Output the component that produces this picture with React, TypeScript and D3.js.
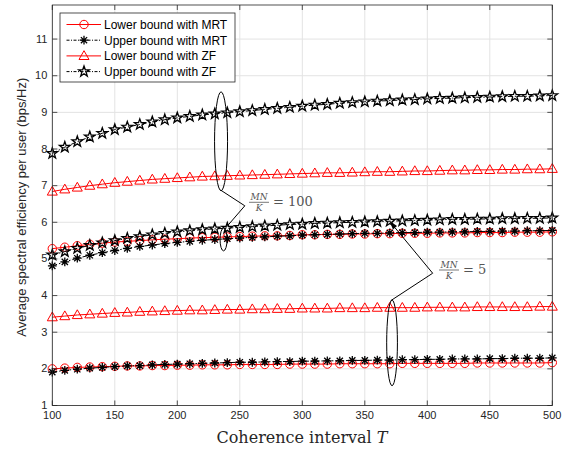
import React from "react";
import * as d3 from "d3";

// coherence interval T
const T = [100, 110, 120, 130, 140, 150, 160, 170, 180, 190, 200, 210, 220, 230, 240, 250, 260, 270, 280, 290,
  300, 310, 320, 330, 340, 350, 360, 370, 380, 390, 400, 410, 420, 430, 440, 450, 460, 470, 480, 490, 500];

// MN/K = 100
const mrtLower100 = [5.28, 5.32, 5.36, 5.40, 5.43, 5.46, 5.48, 5.50, 5.52, 5.54, 5.55, 5.57, 5.58, 5.59, 5.60, 5.61, 5.62, 5.63, 5.63, 5.64,
  5.66, 5.66, 5.67, 5.67, 5.68, 5.68, 5.69, 5.69, 5.70, 5.70, 5.70, 5.71, 5.71, 5.71, 5.72, 5.72, 5.72, 5.73, 5.73, 5.73, 5.74];
const mrtUpper100 = [4.81, 4.92, 5.02, 5.10, 5.17, 5.23, 5.29, 5.34, 5.38, 5.42, 5.45, 5.48, 5.51, 5.53, 5.55, 5.57, 5.59, 5.60, 5.62, 5.63,
  5.65, 5.66, 5.67, 5.68, 5.69, 5.70, 5.70, 5.71, 5.72, 5.72, 5.73, 5.73, 5.74, 5.74, 5.75, 5.75, 5.76, 5.76, 5.77, 5.77, 5.78];
const zfLower100 = [6.84, 6.90, 6.95, 7.00, 7.04, 7.08, 7.11, 7.14, 7.17, 7.19, 7.21, 7.23, 7.25, 7.26, 7.27, 7.28, 7.29, 7.30, 7.31, 7.32,
  7.33, 7.34, 7.35, 7.35, 7.36, 7.37, 7.38, 7.38, 7.39, 7.40, 7.40, 7.41, 7.42, 7.42, 7.43, 7.43, 7.44, 7.44, 7.45, 7.45, 7.46];
const zfUpper100 = [7.88, 8.05, 8.20, 8.33, 8.43, 8.53, 8.60, 8.67, 8.74, 8.80, 8.85, 8.89, 8.93, 8.96, 8.99, 9.02, 9.05, 9.08, 9.11, 9.14,
  9.17, 9.20, 9.22, 9.25, 9.27, 9.29, 9.31, 9.32, 9.34, 9.35, 9.37, 9.38, 9.39, 9.40, 9.41, 9.42, 9.43, 9.44, 9.44, 9.45, 9.46];

// MN/K = 5
const mrtLower5 = [2.00, 2.02, 2.04, 2.05, 2.06, 2.07, 2.08, 2.08, 2.09, 2.09, 2.10, 2.10, 2.11, 2.11, 2.11, 2.12, 2.12, 2.12, 2.12, 2.13,
  2.13, 2.13, 2.13, 2.14, 2.14, 2.14, 2.14, 2.14, 2.15, 2.15, 2.15, 2.15, 2.15, 2.15, 2.16, 2.16, 2.16, 2.16, 2.16, 2.16, 2.17];
const mrtUpper5 = [1.91, 1.96, 1.99, 2.02, 2.04, 2.06, 2.08, 2.09, 2.11, 2.12, 2.13, 2.14, 2.15, 2.16, 2.17, 2.18, 2.18, 2.19, 2.20, 2.20,
  2.21, 2.21, 2.22, 2.22, 2.23, 2.23, 2.24, 2.24, 2.25, 2.25, 2.26, 2.26, 2.27, 2.27, 2.27, 2.28, 2.28, 2.29, 2.29, 2.29, 2.30];
const zfLower5 = [3.41, 3.44, 3.47, 3.49, 3.51, 3.53, 3.54, 3.56, 3.57, 3.58, 3.59, 3.60, 3.60, 3.61, 3.62, 3.62, 3.63, 3.63, 3.64, 3.64,
  3.65, 3.65, 3.65, 3.66, 3.66, 3.66, 3.67, 3.67, 3.67, 3.67, 3.68, 3.68, 3.68, 3.68, 3.69, 3.69, 3.69, 3.69, 3.69, 3.70, 3.70];
const zfUpper5 = [5.11, 5.20, 5.29, 5.37, 5.44, 5.50, 5.56, 5.61, 5.66, 5.70, 5.74, 5.77, 5.80, 5.82, 5.84, 5.86, 5.88, 5.90, 5.92, 5.94,
  5.95, 5.97, 5.98, 5.99, 6.00, 6.01, 6.02, 6.03, 6.04, 6.05, 6.06, 6.07, 6.08, 6.08, 6.09, 6.09, 6.10, 6.10, 6.11, 6.11, 6.12];

const xTicks = [100, 150, 200, 250, 300, 350, 400, 450, 500];
const yTicks = [1, 2, 3, 4, 5, 6, 7, 8, 9, 10, 11];

const legendLabels = ["Lower bound with MRT", "Upper bound with MRT", "Lower bound with ZF", "Upper bound with ZF"];

const left = 52.3, right = 552.3, top = 5, bottom = 405.5;
const x = d3.scaleLinear().domain([100, 500]).range([left, right]);
const y = d3.scaleLinear().domain([1, 11.93]).range([bottom, top]);

type Kind = "circle" | "asterisk" | "triangle" | "star";

const styles: { kind: Kind; color: string; dash?: string }[] = [
  { kind: "circle", color: "#ff0000" },
  { kind: "asterisk", color: "#000000", dash: "5,2,1.5,2" },
  { kind: "triangle", color: "#ff0000" },
  { kind: "star", color: "#000000", dash: "5,2,1.5,2" },
];

const series = [
  { s: 0, values: mrtLower100 },
  { s: 1, values: mrtUpper100 },
  { s: 2, values: zfLower100 },
  { s: 3, values: zfUpper100 },
  { s: 0, values: mrtLower5 },
  { s: 1, values: mrtUpper5 },
  { s: 2, values: zfLower5 },
  { s: 3, values: zfUpper5 },
];

function starPath(r: number) {
  const pts: string[] = [];
  for (let i = 0; i < 10; i++) {
    const a = -Math.PI / 2 + (i * Math.PI) / 5;
    const rr = i % 2 === 0 ? r : r * 0.4;
    pts.push(`${(rr * Math.cos(a)).toFixed(2)},${(rr * Math.sin(a)).toFixed(2)}`);
  }
  return "M" + pts.join("L") + "Z";
}

function Marker({ kind, color, cx, cy }: { kind: Kind; color: string; cx: number; cy: number }) {
  const t = `translate(${cx},${cy})`;
  if (kind === "circle") return <circle cx={cx} cy={cy} r={4.2} fill="none" stroke={color} strokeWidth={1} />;
  if (kind === "triangle")
    return <path transform={t} d="M0,-5.2L5,3.6L-5,3.6Z" fill="none" stroke={color} strokeWidth={1} />;
  if (kind === "star") return <path transform={t} d={starPath(5.6)} fill="none" stroke={color} strokeWidth={1.3} />;
  const r = 4.4, d = r * Math.SQRT1_2;
  return (
    <path transform={t} stroke={color} strokeWidth={1.3}
      d={`M${-r},0L${r},0M0,${-r}L0,${r}M${-d},${-d}L${d},${d}M${-d},${d}L${d},${-d}`} />
  );
}

const line = d3.line<number>().x((_, i) => x(T[i])).y((v) => y(v));

function Fraction({ cx, cyBar, rhs }: { cx: number; cyBar: number; rhs: string }) {
  return (
    <g fill="#555" fontFamily="'DejaVu Serif', serif">
      <text x={cx} y={cyBar - 2.5} fontSize={9} fontStyle="italic" textAnchor="middle">MN</text>
      <line x1={cx - 10} x2={cx + 10} y1={cyBar} y2={cyBar} stroke="#555" strokeWidth={0.8} />
      <text x={cx} y={cyBar + 8.5} fontSize={9} fontStyle="italic" textAnchor="middle">K</text>
      <text x={cx + 14} y={cyBar + 4} fontSize={13}>{rhs}</text>
    </g>
  );
}

export default function App() {
  const arrowTip = [x(369.6), y(6.04)];
  const arrowFrom = [x(404.3), y(4.61)];
  const ang = Math.atan2(arrowTip[1] - arrowFrom[1], arrowTip[0] - arrowFrom[0]);
  const ah = 9, aw = 2.6;
  const bx = arrowTip[0] - ah * Math.cos(ang), by = arrowTip[1] - ah * Math.sin(ang);
  const head = `M${arrowTip[0]},${arrowTip[1]}L${bx - aw * Math.sin(ang)},${by + aw * Math.cos(ang)}L${bx + aw * Math.sin(ang)},${by - aw * Math.cos(ang)}Z`;

  return (
    <svg width={578} height={451} style={{ position: "absolute", left: 0, top: 0, background: "#fff" }}
      fontFamily="'Liberation Sans', Arial, sans-serif">
      <rect x={0} y={0} width={578} height={451} fill="#fff" />
      {/* grid */}
      <g stroke="#e3e3e3" strokeWidth={1}>
        {xTicks.map((t) => <line key={"gx" + t} x1={x(t)} x2={x(t)} y1={top} y2={bottom} />)}
        {yTicks.map((t) => <line key={"gy" + t} x1={left} x2={right} y1={y(t)} y2={y(t)} />)}
      </g>

      {/* series */}
      {series.map((sr, k) => {
        const st = styles[sr.s];
        return (
          <g key={"s" + k}>
            <path d={line(sr.values) || ""} fill="none" stroke={st.color} strokeWidth={1}
              strokeDasharray={st.dash} />
            {sr.values.map((v, i) => (
              <Marker key={i} kind={st.kind} color={st.color} cx={x(T[i])} cy={y(v)} />
            ))}
          </g>
        );
      })}

      {/* annotations */}
      <g fill="none" stroke="#000" strokeWidth={1}>
        <ellipse cx={x(235)} cy={y(8.21)} rx={x(235) - x(229.8)} ry={y(6.86) - y(8.21)} />
        <ellipse cx={x(237)} cy={y(5.53)} rx={x(237) - x(234.2)} ry={y(5.22) - y(5.53)} />
        <polyline points={[[234.6, 6.88], [254, 6.45], [238.8, 5.85]].map((p) => `${x(p[0])},${y(p[1])}`).join(" ")} />
        <ellipse cx={x(371.8)} cy={y(2.71)} rx={x(371.8) - x(367.5)} ry={y(1.54) - y(2.71)} />
        <polyline points={[[370.7, 3.86], [404.3, 4.61]].map((p) => `${x(p[0])},${y(p[1])}`).join(" ") + ` ${bx},${by}`} />
      </g>
      <path d={head} fill="#000" />
      <Fraction cx={259} cyBar={202.3} rhs="= 100" />
      <Fraction cx={449} cyBar={270} rhs="= 5" />

      {/* axes box and ticks */}
      <g stroke="#262626" strokeWidth={0.8} fill="none">
        <rect x={left} y={top} width={right - left} height={bottom - top} />
        {xTicks.map((t) => (
          <g key={"tx" + t}>
            <line x1={x(t)} x2={x(t)} y1={bottom} y2={bottom - 5} />
            <line x1={x(t)} x2={x(t)} y1={top} y2={top + 5} />
          </g>
        ))}
        {yTicks.map((t) => (
          <g key={"ty" + t}>
            <line x1={left} x2={left + 5} y1={y(t)} y2={y(t)} />
            <line x1={right} x2={right - 5} y1={y(t)} y2={y(t)} />
          </g>
        ))}
      </g>
      <g fill="#262626" fontSize={11}>
        {xTicks.map((t) => (
          <text key={"lx" + t} x={x(t)} y={bottom + 13} textAnchor="middle">{t}</text>
        ))}
        {yTicks.map((t) => (
          <text key={"ly" + t} x={left - 5} y={y(t) + 3.5} textAnchor="end">{t}</text>
        ))}
      </g>
      <text x={302} y={443} textAnchor="middle" fontSize={16} fill="#262626"
        fontFamily="'DejaVu Serif', 'Liberation Serif', serif">
        Coherence interval <tspan fontStyle="italic">T</tspan>
      </text>
      <text transform={`translate(26,${(top + bottom) / 2 + 2}) rotate(-90)`} textAnchor="middle"
        fontSize={13} fill="#262626">
        Average spectral efficiency per user (bps/Hz)
      </text>

      {/* legend */}
      <g>
        <rect x={60} y={13} width={175} height={69} fill="#fff" stroke="#262626" strokeWidth={0.8} />
        {legendLabels.map((lab, i) => {
          const st = styles[i];
          const ly = 24.5 + i * 15.7;
          return (
            <g key={lab}>
              <line x1={66.5} x2={101} y1={ly} y2={ly} stroke={st.color} strokeWidth={1}
                strokeDasharray={st.dash ? "3,1.5,1,1.5" : undefined} />
              <Marker kind={st.kind} color={st.color} cx={84} cy={ly} />
              <text x={104} y={ly + 4.3} fontSize={12} fill="#000">{lab}</text>
            </g>
          );
        })}
      </g>
    </svg>
  );
}
